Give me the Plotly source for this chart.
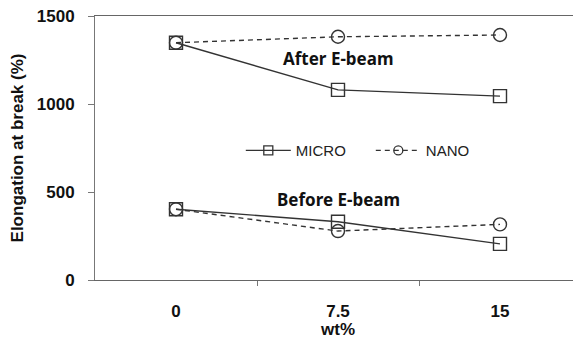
import plotly.graph_objects as go

categories = ["0", "7.5", "15"]
micro_after = [1348, 1080, 1045]
nano_after = [1348, 1382, 1392]
micro_before = [402, 331, 205]
nano_before = [402, 278, 316]
y_ticks = [0, 500, 1000, 1500]

xpos = list(range(len(categories)))
line_col = "#333333"
dash_pat = "5px,4px"
fig = go.Figure()

def add(y, name, dash, symbol):
    fig.add_trace(go.Scatter(
        x=xpos, y=y, name=name, mode="lines+markers",
        line=dict(color=line_col, width=1.4, dash=dash),
        marker=dict(symbol=symbol, size=13, color=line_col,
                    line=dict(color=line_col, width=1.4)),
        showlegend=False, legendgroup=name,
    ))

add(micro_after, "MICRO", "solid", "square-open")
add(micro_before, "MICRO", "solid", "square-open")
add(nano_after, "NANO", dash_pat, "circle-open")
add(nano_before, "NANO", dash_pat, "circle-open")

# legend entries (smaller symbols, as in the reference legend)
for name, dash, symbol in [("MICRO", "solid", "square-open"), ("NANO", dash_pat, "circle-open")]:
    fig.add_trace(go.Scatter(
        x=[None], y=[None], name=name, mode="lines+markers",
        line=dict(color=line_col, width=1.4, dash=dash),
        marker=dict(symbol=symbol, size=9, color=line_col,
                    line=dict(color=line_col, width=1.3)),
        showlegend=True, legendgroup=name,
    ))

fig.add_annotation(x=1, y=1256, text="<b>After E-beam</b>", showarrow=False,
                   font=dict(family="Noto Sans", size=17, color="#111"))
fig.add_annotation(x=1, y=455, text="<b>Before E-beam</b>", showarrow=False,
                   font=dict(family="Noto Sans", size=17, color="#111"))

fig.update_layout(
    width=573, height=343,
    margin=dict(l=87, r=0, t=8, b=71),
    paper_bgcolor="white", plot_bgcolor="white",
    font=dict(family="Liberation Sans, Arial", color="#111"),
    showlegend=True,
    legend=dict(orientation="h", x=0.3, y=0.49, xanchor="left", yanchor="middle",
                bgcolor="rgba(0,0,0,0)", font=dict(size=15, color="#222"),
                itemwidth=45, entrywidth=70, entrywidthmode="pixels",
                tracegroupgap=0),
    xaxis=dict(range=[-0.5, 2.5], tickvals=xpos,
               ticktext=["<b>%s</b>" % c for c in categories],
               showline=True, linecolor="#666", linewidth=1.2, mirror=True,
               ticks="", automargin=False, ticklabelstandoff=15,
               ticklabeloverflow="allow",
               minor=dict(tickvals=[0.5, 1.5], ticks="outside", ticklen=5,
                          tickcolor="#777", showgrid=False),
               showgrid=False, zeroline=False,
               tickfont=dict(size=17, color="#111"),
               title=dict(text="<b>wt%</b>", font=dict(size=17, color="#111"), standoff=2)),
    yaxis=dict(range=[0, 1500], tickvals=y_ticks,
               ticktext=["<b>%d</b>" % v for v in y_ticks],
               showline=True, linecolor="#777", linewidth=1,
               ticks="outside", ticklen=6, tickcolor="#777",
               automargin=False, ticklabelstandoff=10,
               ticklabeloverflow="allow",
               showgrid=False, zeroline=False,
               tickfont=dict(size=17, color="#111"),
               title=dict(text="<b>Elongation at break (%)</b>",
                          font=dict(size=17, color="#111"), standoff=12)),
)

fig.write_html("out.html")
